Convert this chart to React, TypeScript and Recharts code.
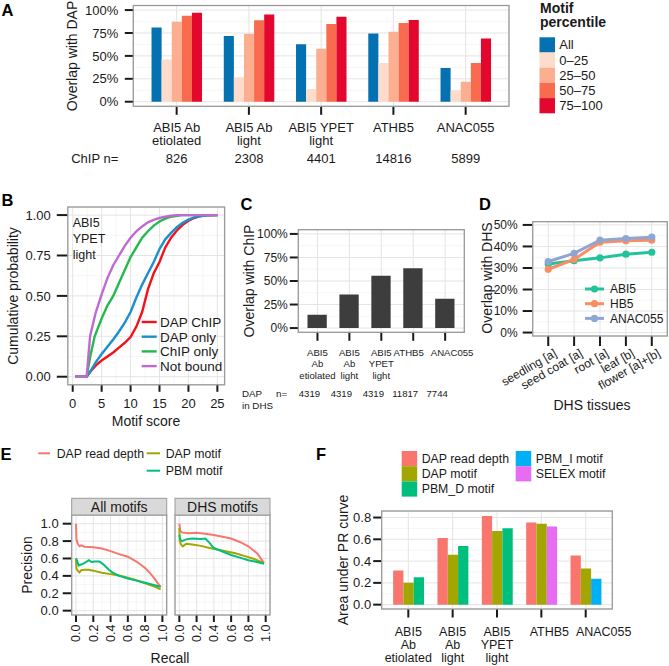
import React from "react";
import { BarChart, Bar, LineChart, Line, XAxis, YAxis, CartesianGrid, Cell } from "recharts";

const W = 669;
const H = 666;
const FONT = '"Liberation Sans", Arial, Helvetica, sans-serif';
const INK = "#1a1a1a";
const GRID = "#e4e4e4";
const GRID_MINOR = "#f2f2f2";
const FRAME = "#9a9a9a";
const XH = 40; // x-axis band height reserved by recharts

type Pt = [number, number];
type Box = { left: number; right: number; top: number; bottom: number };

// ---------- A: ChIP peaks overlapping DAP, split by motif percentile
const chipSamples = ["ABI5 Ab\netiolated", "ABI5 Ab\nlight", "ABI5 YPET\nlight", "ATHB5", "ANAC055"];
const chipN = [826, 2308, 4401, 14816, 5899];
const percentileBins = ["All", "0–25", "25–50", "50–75", "75–100"];
const percentileColors = ["#0571b0", "#fddccb", "#fbae90", "#f86b4e", "#e3072d"];
const overlapAll = [0.811, 0.716, 0.626, 0.745, 0.367];
const overlapQ1 = [0.462, 0.266, 0.139, 0.422, 0.124];
const overlapQ2 = [0.872, 0.742, 0.578, 0.764, 0.218];
const overlapQ3 = [0.938, 0.888, 0.847, 0.858, 0.422];
const overlapQ4 = [0.971, 0.953, 0.927, 0.891, 0.69];
const pctTicks = [0, 0.25, 0.5, 0.75, 1];
const pctMinor = [0.125, 0.375, 0.625, 0.875];

// ---------- B: motif score CDFs (ABI5 YPET light)
const cdfSeries = ["DAP ChIP", "DAP only", "ChIP only", "Not bound"];
const cdfColors = ["#f3121b", "#1b8fcf", "#23b94c", "#bf6ad2"];
const cdfDapChip: Pt[] = [[0.4, 0], [2.4, 0], [3, 0.03], [4, 0.07], [5, 0.1], [6, 0.125], [7, 0.15], [8, 0.18], [9, 0.21], [10, 0.245], [11, 0.31], [12, 0.4], [13, 0.54], [14, 0.64], [15, 0.71], [16, 0.8], [17, 0.86], [18, 0.905], [19, 0.94], [20, 0.965], [21, 0.982], [22, 0.993], [23, 0.998], [25, 1]];
const cdfDapOnly: Pt[] = [[0.4, 0], [2.4, 0], [3, 0.03], [4, 0.09], [5, 0.14], [6, 0.185], [7, 0.23], [8, 0.28], [9, 0.335], [10, 0.4], [11, 0.49], [12, 0.57], [13, 0.64], [14, 0.71], [15, 0.79], [16, 0.85], [17, 0.89], [18, 0.925], [19, 0.952], [20, 0.972], [21, 0.986], [22, 0.994], [24, 1], [25, 1]];
const cdfChipOnly: Pt[] = [[0.4, 0], [2.4, 0], [3, 0.12], [3.8, 0.25], [5, 0.36], [6, 0.44], [7, 0.5], [8, 0.58], [9, 0.66], [10, 0.74], [11, 0.8], [12, 0.86], [13, 0.9], [14, 0.935], [15, 0.96], [16, 0.978], [17, 0.99], [18, 0.996], [19, 1], [25, 1]];
const cdfNotBound: Pt[] = [[0.4, 0], [2.4, 0], [2.5, 0.04], [3, 0.25], [4, 0.4], [5, 0.51], [6, 0.61], [7, 0.69], [8, 0.75], [9, 0.81], [10, 0.86], [11, 0.9], [12, 0.93], [13, 0.955], [14, 0.97], [15, 0.982], [16, 0.99], [17, 0.996], [18, 1], [25, 1]];
const cdfCurves = [cdfDapChip, cdfDapOnly, cdfChipOnly, cdfNotBound];

// ---------- C: DAP peaks in DHS overlapping ChIP
const dhsSamples = ["ABI5\nAb\netiolated", "ABI5\nAb\nlight", "ABI5\nYPET\nlight", "ATHB5", "ANAC055"];
const dapInDhsN = [4319, 4319, 4319, 11817, 7744];
const overlapChip = [0.141, 0.357, 0.555, 0.636, 0.311];

// ---------- D: overlap with DHS per tissue
const dhsTissues = ["seedling [a]", "seed coat [a]", "root [a]", "leaf [b]", "flower [a]+[b]"];
const tfNames = ["ABI5", "HB5", "ANAC055"];
const tfColors = ["#22c39a", "#fc8d62", "#8fa6d4"];
const dhsAbi5 = [31.9, 33.4, 34.7, 36.4, 37.3];
const dhsHb5 = [29.4, 34.0, 42.0, 42.7, 42.9];
const dhsAnac055 = [33.0, 36.8, 42.9, 43.7, 44.3];

// ---------- E: precision-recall curves
const prMethods = ["DAP read depth", "DAP motif", "PBM motif"];
const methodColors = ["#F8766D", "#A3A500", "#00BF7D", "#00B0F6", "#E76BF3"];
const prAllRead: Pt[] = [[0, 1.0], [0.005, 0.82], [0.02, 0.77], [0.04, 0.74], [0.06, 0.75], [0.1, 0.735], [0.2, 0.73], [0.3, 0.715], [0.4, 0.685], [0.5, 0.65], [0.6, 0.62], [0.7, 0.565], [0.8, 0.49], [0.85, 0.44], [0.9, 0.38], [0.95, 0.31], [0.98, 0.27]];
const prAllDap: Pt[] = [[0, 0.6], [0.005, 0.48], [0.02, 0.46], [0.04, 0.44], [0.06, 0.465], [0.1, 0.47], [0.15, 0.47], [0.2, 0.46], [0.3, 0.435], [0.4, 0.42], [0.5, 0.405], [0.6, 0.38], [0.7, 0.35], [0.8, 0.315], [0.9, 0.28], [0.98, 0.245]];
const prAllPbm: Pt[] = [[0, 0.6], [0.01, 0.58], [0.03, 0.52], [0.06, 0.53], [0.1, 0.55], [0.15, 0.58], [0.18, 0.56], [0.22, 0.565], [0.27, 0.565], [0.32, 0.53], [0.38, 0.47], [0.42, 0.44], [0.5, 0.4], [0.6, 0.37], [0.7, 0.345], [0.8, 0.32], [0.9, 0.295], [0.98, 0.275]];
const prDhsRead: Pt[] = [[0, 1.0], [0.01, 0.92], [0.03, 0.9], [0.1, 0.89], [0.2, 0.895], [0.3, 0.885], [0.4, 0.87], [0.5, 0.85], [0.6, 0.83], [0.7, 0.79], [0.8, 0.74], [0.9, 0.66], [0.98, 0.55]];
const prDhsDap: Pt[] = [[0, 0.95], [0.005, 0.8], [0.02, 0.76], [0.04, 0.74], [0.08, 0.77], [0.15, 0.76], [0.25, 0.745], [0.35, 0.72], [0.45, 0.7], [0.55, 0.68], [0.65, 0.66], [0.75, 0.63], [0.85, 0.6], [0.95, 0.56], [0.98, 0.54]];
const prDhsPbm: Pt[] = [[0, 0.87], [0.01, 0.82], [0.03, 0.8], [0.08, 0.82], [0.15, 0.83], [0.25, 0.825], [0.3, 0.83], [0.35, 0.78], [0.4, 0.72], [0.5, 0.68], [0.6, 0.64], [0.7, 0.61], [0.8, 0.58], [0.9, 0.56], [0.98, 0.54]];
const prFacets = ["All motifs", "DHS motifs"];
const prCurves = [[prAllRead, prAllDap, prAllPbm], [prDhsRead, prDhsDap, prDhsPbm]];
const unitTicks = [0, 0.2, 0.4, 0.6, 0.8, 1];
const unitMinor = [0.1, 0.3, 0.5, 0.7, 0.9];

// ---------- F: area under PR curve
const aucMethods = ["DAP read depth", "DAP motif", "PBM_D motif", "PBM_I motif", "SELEX motif"];
const aucReadDepth = [0.314, 0.612, 0.815, 0.754, 0.452];
const aucDapMotif = [0.2, 0.458, 0.676, 0.744, 0.332];
const aucThirdMotif = [0.252, 0.538, 0.701, 0.717, 0.237];
const aucThirdMethod = ["PBM_D motif", "PBM_D motif", "PBM_D motif", "SELEX motif", "PBM_I motif"];

// ---------- layout (page pixels)
const boxA: Box = { left: 133.3, right: 509, top: 5.5, bottom: 106.3 };
const boxB: Box = { left: 67.8, right: 224.6, top: 207, bottom: 384.8 };
const boxC: Box = { left: 298.3, right: 464.3, top: 229.7, bottom: 332.3 };
const boxD: Box = { left: 532.7, right: 667.3, top: 221.7, bottom: 336 };
const boxE: Box[] = [
  { left: 71.7, right: 166.7, top: 515, bottom: 615 },
  { left: 175, right: 270, top: 515, bottom: 615 }
];
const boxF: Box = { left: 381.7, right: 612.3, top: 511, bottom: 609 };
// label nudges seen in the original (text only, not marks)
const nudgeC = [0, 0, 0, -4.5, 7];
const nudgeF = [0, 0, 0, 8, 18];

const layer: React.CSSProperties = { position: "absolute", left: 0, top: 0 };
const tickLine = { stroke: INK, strokeWidth: 2 };

function margins(b: Box, yw: number) {
  return { top: b.top, right: W - b.right, bottom: H - b.bottom - XH, left: b.left - yw };
}

const toXY = (pts: Pt[]) => pts.map(([x, y]) => ({ x, y }));
const pct = (v: number) => `${Math.round(v * 100)}%`;

function MultiTick({ x, y, payload, lines0, step, size, nRow, nDx, nValues, labels, nudge }: any) {
  const i = labels.indexOf(payload.value);
  const parts = String(payload.value).split("\n");
  const dx = nudge ? nudge[i] : 0;
  return (
    <g>
      {parts.map((t: string, k: number) => (
        <text key={k} x={x + dx} y={y + lines0 + k * step} textAnchor="middle" fontSize={size} fill={INK}>
          {t}
        </text>
      ))}
      {nValues ? (
        <text x={x + nDx} y={y + nRow} textAnchor="middle" fontSize={size} fill={INK}>
          {nValues[i]}
        </text>
      ) : null}
    </g>
  );
}

function NumTick({ x, y, payload }: any) {
  return (
    <text x={x} y={y + 14} textAnchor="middle" fontSize={13} fill={INK}>
      {payload.value}
    </text>
  );
}

function TissueTick({ x, y, payload }: any) {
  return (
    <text transform={`translate(${x + 5},${y}) rotate(-30)`} textAnchor="end" dy="0.72em" fontSize={12} fill={INK}>
      {dhsTissues[payload.value - 1]}
    </text>
  );
}

function RecallTick({ x, y, payload }: any) {
  return (
    <text transform={`translate(${x},${y}) rotate(-90)`} textAnchor="end" dy="0.35em" fontSize={12.5} fill={INK}>
      {Number(payload.value).toFixed(1)}
    </text>
  );
}

function Frame({ b }: { b: Box }) {
  return <rect x={b.left} y={b.top} width={b.right - b.left} height={b.bottom - b.top} fill="none" stroke={FRAME} strokeWidth={1.3} />;
}

function VTitle({ x, y, children }: any) {
  return (
    <text transform={`translate(${x},${y}) rotate(-90)`} textAnchor="middle" dy="0.35em" fontSize={14} fill={INK}>
      {children}
    </text>
  );
}

function Letter({ x, y, children }: any) {
  return (
    <text x={x} y={y} fontSize={16.5} fontWeight="bold" fill="#000">
      {children}
    </text>
  );
}

export default function App() {
  const rowsA = chipSamples.map((name, i) => ({
    name,
    all: overlapAll[i],
    q1: overlapQ1[i],
    q2: overlapQ2[i],
    q3: overlapQ3[i],
    q4: overlapQ4[i]
  }));
  const keysA = ["all", "q1", "q2", "q3", "q4"];
  const rowsC = dhsSamples.map((name, i) => ({ name, value: overlapChip[i] }));
  const rowsD = dhsTissues.map((t, i) => ({ pos: i + 1, abi5: dhsAbi5[i], hb5: dhsHb5[i], anac055: dhsAnac055[i] }));
  const keysD = ["abi5", "hb5", "anac055"];
  const rowsF = dhsSamples.map((name, i) => ({
    name,
    read: aucReadDepth[i],
    dap: aucDapMotif[i],
    third: aucThirdMotif[i],
    method: aucThirdMethod[i]
  }));
  const colorOf = (m: string) => methodColors[aucMethods.indexOf(m)];

  const spA = (boxA.right - boxA.left) / 5.2;
  const spC = (boxC.right - boxC.left) / 5.2;
  const spF = (boxF.right - boxF.left) / 5.2;

  return (
    <div style={{ position: "relative", width: W, height: H, fontFamily: FONT, background: "#fff", overflow: "hidden" }}>
      <style>{"body{margin:0}"}</style>

      {/* A */}
      <div style={layer}>
        <BarChart width={W} height={H} data={rowsA} margin={margins(boxA, 60)} barSize={10.1} barGap={0}>
          <CartesianGrid horizontalValues={pctMinor} vertical={false} stroke={GRID_MINOR} strokeWidth={0.7} />
          <CartesianGrid stroke={GRID} />
          <XAxis
            dataKey="name"
            interval={0}
            axisLine={false}
            tickLine={tickLine}
            tickSize={8.5}
            tickMargin={2}
            height={XH}
            padding={{ left: spA * 0.1, right: spA * 0.1 }}
            tick={<MultiTick lines0={14.7} step={13.5} size={13} nRow={45.9} nDx={0} nValues={chipN} labels={chipSamples} />}
          />
          <YAxis
            type="number"
            domain={[-0.05, 1.05]}
            ticks={pctTicks}
            allowDataOverflow
            interval={0}
            tickFormatter={pct}
            axisLine={false}
            tickLine={tickLine}
            tickSize={8.5}
            tickMargin={6.5}
            width={60}
            tick={{ fontSize: 13, fill: INK }}
          />
          {keysA.map((k, i) => (
            <Bar key={k} dataKey={k} fill={percentileColors[i]} isAnimationActive={false} />
          ))}
        </BarChart>
      </div>

      {/* B */}
      <div style={layer}>
        <LineChart width={W} height={H} margin={margins(boxB, 50)}>
          <CartesianGrid horizontalValues={[0.125, 0.375, 0.625, 0.875]} verticalValues={[2.5, 7.5, 12.5, 17.5, 22.5]} stroke={GRID_MINOR} strokeWidth={0.7} />
          <CartesianGrid stroke={GRID} />
          <XAxis
            type="number"
            dataKey="x"
            domain={[-0.85, 26.25]}
            ticks={[0, 5, 10, 15, 20, 25]}
            allowDataOverflow
            interval={0}
            axisLine={false}
            tickLine={tickLine}
            tickSize={7}
            tickMargin={2}
            height={XH}
            tick={<NumTick />}
          />
          <YAxis
            type="number"
            dataKey="y"
            domain={[-0.05, 1.05]}
            ticks={pctTicks}
            allowDataOverflow
            interval={0}
            tickFormatter={(v: number) => v.toFixed(2)}
            axisLine={false}
            tickLine={tickLine}
            tickSize={11}
            tickMargin={6}
            width={50}
            tick={{ fontSize: 13, fill: INK }}
          />
          {cdfCurves.map((c, i) => (
            <Line
              key={cdfSeries[i]}
              data={toXY(c)}
              dataKey="y"
              type="linear"
              stroke={cdfColors[i]}
              strokeWidth={2.4}
              dot={false}
              isAnimationActive={false}
            />
          ))}
        </LineChart>
      </div>

      {/* C */}
      <div style={layer}>
        <BarChart width={W} height={H} data={rowsC} margin={margins(boxC, 50)} barSize={19.3}>
          <CartesianGrid horizontalValues={pctMinor} vertical={false} stroke={GRID_MINOR} strokeWidth={0.7} />
          <CartesianGrid stroke={GRID} />
          <XAxis
            dataKey="name"
            interval={0}
            axisLine={false}
            tickLine={tickLine}
            tickSize={8.5}
            tickMargin={2}
            height={XH}
            padding={{ left: spC * 0.1, right: spC * 0.1 }}
            tick={<MultiTick lines0={12.9} step={11.65} size={9.6} nRow={53.9} nDx={-8} nValues={dapInDhsN} labels={dhsSamples} nudge={nudgeC} />}
          />
          <YAxis
            type="number"
            domain={[-0.045, 1.045]}
            ticks={pctTicks}
            allowDataOverflow
            interval={0}
            tickFormatter={pct}
            axisLine={false}
            tickLine={tickLine}
            tickSize={8.5}
            tickMargin={2}
            width={50}
            tick={{ fontSize: 12, fill: INK }}
          />
          <Bar dataKey="value" fill="#3d3d3d" isAnimationActive={false} />
        </BarChart>
      </div>

      {/* D */}
      <div style={layer}>
        <LineChart width={W} height={H} data={rowsD} margin={margins(boxD, 50)}>
          <CartesianGrid horizontalValues={[5, 15, 25, 35, 45]} vertical={false} stroke={GRID_MINOR} strokeWidth={0.7} />
          <CartesianGrid stroke={GRID} />
          <XAxis
            type="number"
            dataKey="pos"
            domain={[0.4, 5.6]}
            ticks={[1, 2, 3, 4, 5]}
            allowDataOverflow
            interval={0}
            axisLine={false}
            tickLine={tickLine}
            tickSize={10}
            tickMargin={2}
            height={XH}
            tick={<TissueTick />}
          />
          <YAxis
            type="number"
            domain={[-1.6, 51.5]}
            ticks={[0, 10, 20, 30, 40, 50]}
            allowDataOverflow
            interval={0}
            tickFormatter={(v: number) => `${v}%`}
            axisLine={false}
            tickLine={tickLine}
            tickSize={10}
            tickMargin={5}
            width={50}
            tick={{ fontSize: 12, fill: INK }}
          />
          {keysD.map((k, i) => (
            <Line
              key={k}
              dataKey={k}
              type="linear"
              stroke={tfColors[i]}
              strokeWidth={3}
              dot={{ r: 3.6, fill: tfColors[i], stroke: tfColors[i], strokeWidth: 0 }}
              isAnimationActive={false}
            />
          ))}
        </LineChart>
      </div>

      {/* E facets */}
      {prFacets.map((f, p) => (
        <div style={layer} key={f}>
          <LineChart width={W} height={H} margin={margins(boxE[p], p === 0 ? 50 : 0)}>
            <CartesianGrid horizontalValues={unitMinor} verticalValues={unitMinor} stroke={GRID_MINOR} strokeWidth={0.7} />
            <CartesianGrid stroke={GRID} />
            <XAxis
              type="number"
              dataKey="x"
              domain={[-0.05, 1.05]}
              ticks={unitTicks}
              allowDataOverflow
              interval={0}
              axisLine={false}
              tickLine={tickLine}
              tickSize={7}
              tickMargin={2.5}
              height={XH}
              tick={<RecallTick />}
            />
            <YAxis
              type="number"
              dataKey="y"
              domain={[-0.05, 1.1]}
              ticks={unitTicks}
              allowDataOverflow
              interval={0}
              hide={p !== 0}
              tickFormatter={(v: number) => v.toFixed(1)}
              axisLine={false}
              tickLine={tickLine}
              tickSize={9}
              tickMargin={4}
              width={50}
              tick={{ fontSize: 13, fill: INK }}
            />
            {prCurves[p].map((c, i) => (
              <Line
                key={prMethods[i]}
                data={toXY(c)}
                dataKey="y"
                type="linear"
                stroke={methodColors[i]}
                strokeWidth={2}
                dot={false}
                isAnimationActive={false}
              />
            ))}
          </LineChart>
        </div>
      ))}

      {/* F */}
      <div style={layer}>
        <BarChart width={W} height={H} data={rowsF} margin={margins(boxF, 50)} barSize={10.3} barGap={0}>
          <CartesianGrid horizontalValues={[0.1, 0.3, 0.5, 0.7]} vertical={false} stroke={GRID_MINOR} strokeWidth={0.7} />
          <CartesianGrid stroke={GRID} />
          <XAxis
            dataKey="name"
            interval={0}
            axisLine={false}
            tickLine={tickLine}
            tickSize={8.5}
            tickMargin={2}
            height={XH}
            padding={{ left: spF * 0.1, right: spF * 0.1 }}
            tick={<MultiTick lines0={16} step={13} size={12.5} nRow={0} nDx={0} nValues={null} labels={dhsSamples} nudge={nudgeF} />}
          />
          <YAxis
            type="number"
            domain={[-0.04, 0.86]}
            ticks={[0, 0.2, 0.4, 0.6, 0.8]}
            allowDataOverflow
            interval={0}
            tickFormatter={(v: number) => v.toFixed(1)}
            axisLine={false}
            tickLine={tickLine}
            tickSize={8.5}
            tickMargin={2}
            width={50}
            tick={{ fontSize: 13, fill: INK }}
          />
          <Bar dataKey="read" fill={methodColors[0]} isAnimationActive={false} />
          <Bar dataKey="dap" fill={methodColors[1]} isAnimationActive={false} />
          <Bar dataKey="third" isAnimationActive={false}>
            {rowsF.map((r) => (
              <Cell key={r.name} fill={colorOf(r.method)} />
            ))}
          </Bar>
        </BarChart>
      </div>

      {/* overlay: frames, titles, legends, annotations */}
      <svg width={W} height={H} style={{ ...layer, pointerEvents: "none" }}>
        <Letter x={1.5} y={15.5}>A</Letter>
        <Letter x={1.5} y={206}>B</Letter>
        <Letter x={240.5} y={210}>C</Letter>
        <Letter x={479} y={210}>D</Letter>
        <Letter x={0.5} y={459.5}>E</Letter>
        <Letter x={316} y={459.5}>F</Letter>

        {/* A */}
        <Frame b={boxA} />
        <VTitle x={72.5} y={56}>Overlap with DAP</VTitle>
        <text x={118.3} y={162.7} textAnchor="end" fontSize={13} fill={INK}>ChIP n=</text>
        <text x={540} y={12.5} fontSize={14} fontWeight="bold" fill={INK}>Motif</text>
        <text x={540} y={27} fontSize={14} fontWeight="bold" fill={INK}>percentile</text>
        {percentileBins.map((b, i) => (
          <g key={b}>
            <rect x={539.5} y={37.3 + i * 15.2} width={15.5} height={15.2} fill={percentileColors[i]} />
            <text x={559.3} y={37.3 + i * 15.2 + 12} fontSize={13} fill={INK}>{b}</text>
          </g>
        ))}

        {/* B */}
        <Frame b={boxB} />
        <VTitle x={12.7} y={296}>Cumulative probability</VTitle>
        <text x={146} y={426} textAnchor="middle" fontSize={14} fill={INK}>Motif score</text>
        {["ABI5", "YPET", "light"].map((t, i) => (
          <text key={t} x={72.7} y={226.5 + i * 16.2} fontSize={12.5} fill={INK}>{t}</text>
        ))}
        {cdfSeries.map((s, i) => (
          <g key={s}>
            <line x1={141.7} x2={156.7} y1={322 + i * 14.7} y2={322 + i * 14.7} stroke={cdfColors[i]} strokeWidth={2.4} />
            <text x={160} y={322 + i * 14.7 + 4.8} fontSize={13.5} fill={INK}>{s}</text>
          </g>
        ))}

        {/* C */}
        <Frame b={boxC} />
        <VTitle x={249.3} y={281}>Overlap with ChIP</VTitle>
        <text x={242} y={396.7} fontSize={9.8} fill={INK}>DAP</text>
        <text x={276} y={396.7} fontSize={9.8} fill={INK}>n=</text>
        <text x={242} y={409.3} fontSize={9.8} fill={INK}>in DHS</text>

        {/* D */}
        <Frame b={boxD} />
        <VTitle x={486.7} y={278}>Overlap with DHS</VTitle>
        <text x={592} y={409.5} textAnchor="middle" fontSize={14} fill={INK}>DHS tissues</text>
        {tfNames.map((t, i) => (
          <g key={t}>
            <line x1={585} x2={604} y1={289 + i * 14.7} y2={289 + i * 14.7} stroke={tfColors[i]} strokeWidth={3} />
            <circle cx={594.5} cy={289 + i * 14.7} r={3.6} fill={tfColors[i]} />
            <text x={610} y={289 + i * 14.7 + 4.3} fontSize={12} fill={INK}>{t}</text>
          </g>
        ))}

        {/* E */}
        {boxE.map((b, p) => (
          <g key={p}>
            <Frame b={b} />
            <rect x={b.left} y={498.3} width={b.right - b.left} height={b.top - 498.3} fill="#d9d9d9" stroke={FRAME} strokeWidth={1} />
            <text x={(b.left + b.right) / 2} y={511.5} textAnchor="middle" fontSize={14} fill={INK}>{prFacets[p]}</text>
          </g>
        ))}
        <VTitle x={26.7} y={565}>Precision</VTitle>
        <text x={170} y={663} textAnchor="middle" fontSize={14} fill={INK}>Recall</text>
        <line x1={38.3} x2={50} y1={453.3} y2={453.3} stroke={methodColors[0]} strokeWidth={2} />
        <text x={56.7} y={457.6} fontSize={12.3} fill={INK}>{prMethods[0]}</text>
        <line x1={146.7} x2={160} y1={453.3} y2={453.3} stroke={methodColors[1]} strokeWidth={2} />
        <text x={165.7} y={457.6} fontSize={12.3} fill={INK}>{prMethods[1]}</text>
        <line x1={146.7} x2={160} y1={470.7} y2={470.7} stroke={methodColors[2]} strokeWidth={2} />
        <text x={165.7} y={475} fontSize={12.3} fill={INK}>{prMethods[2]}</text>

        {/* F */}
        <Frame b={boxF} />
        <VTitle x={343.3} y={560}>Area under PR curve</VTitle>
        {aucMethods.map((m, i) => {
          const col = i < 3 ? 0 : 1;
          const row = i < 3 ? i : i - 3;
          const kx = col === 0 ? 401.7 : 515.7;
          const ky = 451 + row * 15.2;
          return (
            <g key={m}>
              <rect x={kx} y={ky} width={15.5} height={15.2} fill={methodColors[i]} />
              <text x={kx + 20} y={ky + 11.8} fontSize={12.3} fill={INK}>{m}</text>
            </g>
          );
        })}
      </svg>
    </div>
  );
}
